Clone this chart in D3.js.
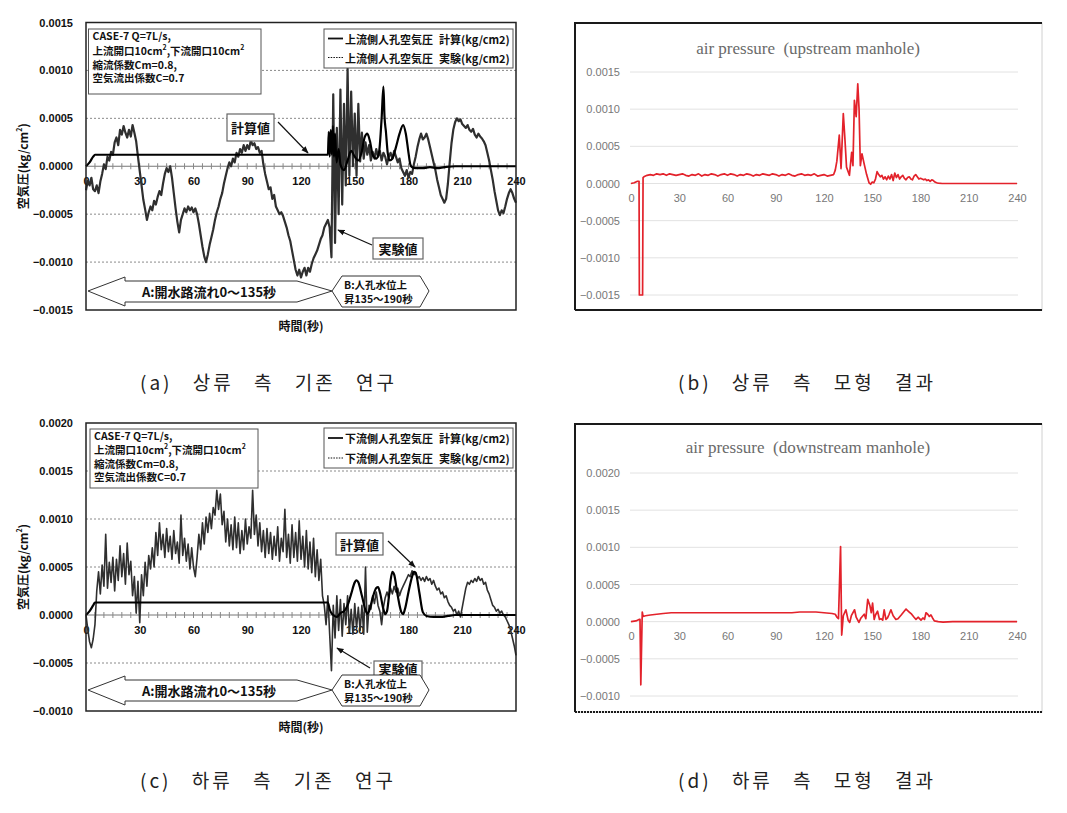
<!DOCTYPE html>
<html><head><meta charset="utf-8">
<script src="https://cdn.jsdelivr.net/npm/d3@7"></script>
<style>body{margin:0;background:#fff;}svg{display:block;}</style>
</head><body>
<svg id="c" width="1067" height="813"></svg>
<script>
// ---------------- DATA ----------------
const xTicks = [0, 30, 60, 90, 120, 150, 180, 210, 240];
const yTicksA = [0.0015, 0.0010, 0.0005, 0.0000, -0.0005, -0.0010, -0.0015];
const yTicksC = [0.0020, 0.0015, 0.0010, 0.0005, 0.0000, -0.0005, -0.0010];
const UNIT = 1e-4; // series below are in units of 1e-4 kg/cm2

// (a) upstream, experiment, one value per second t=0..240
const expUpA = [
 -2.5,-1.5,-2.0,-1.2,-2.4,-2.6,-2.0,-2.8,-1.6,-0.8,
 0.2,-0.3,1.0,0.6,1.5,1.2,2.5,3.0,2.2,3.8,
 3.3,4.2,3.5,3.0,3.8,3.1,4.3,3.5,2.6,1.0,
 -0.5,-2.0,-3.5,-4.5,-5.6,-4.8,-4.2,-4.6,-3.6,-4.0,
 -3.2,-2.6,-3.0,-1.8,-0.8,-0.2,-0.6,0.0,-1.2,-2.8,
 -4.4,-5.8,-6.9,-5.6,-5.0,-4.4,-4.8,-4.2,-4.6,-4.3,
 -4.8,-4.4,-5.0,-6.0,-7.2,-8.4,-9.4,-10.0,-9.2,-8.2,
 -7.4,-6.6,-5.6,-4.8,-4.2,-3.4,-2.8,-1.8,-1.0,-0.2,
 0.4,0.0,0.8,0.4,1.4,1.0,1.8,1.4,2.2,1.6,
 2.2,1.8,2.7,2.2,2.4,1.8,2.0,1.4,1.6,0.2,
 -0.8,-1.6,-2.4,-2.2,-3.4,-3.0,-4.2,-4.6,-5.0,-4.8,
 -5.2,-5.8,-6.4,-7.2,-7.8,-8.8,-9.8,-10.8,-11.4,-10.8,
 -11.6,-11.0,-10.6,-11.4,-10.6,-11.0,-10.2,-9.6,-9.2,-8.8,
 -8.2,-7.6,-7.2,-6.4,-6.0,-5.6,-6.4,-9.5,7.5,-8.0,
 4.0,-5.0,8.0,-4.0,6.5,-2.0,10.2,-1.0,7.8,0.0,
 5.5,-1.0,6.5,0.5,3.5,0.8,2.5,1.2,2.2,0.6,
 1.5,0.8,1.8,1.0,1.6,0.6,1.4,1.0,0.2,1.0,
 1.4,0.8,1.6,1.0,0.4,0.8,-0.2,-0.6,-1.0,-0.4,
 -1.2,-0.6,-0.8,0.2,1.0,2.0,2.8,3.4,2.8,3.0,
 3.4,2.8,2.0,1.2,0.4,-0.4,-1.4,-2.2,-3.0,-3.4,
 -3.8,-3.4,-1.8,0.4,2.4,3.8,4.6,5.0,4.7,4.9,
 4.4,4.2,4.0,4.3,3.8,3.6,3.9,3.3,3.0,3.4,
 3.1,2.9,2.6,2.2,1.4,0.6,-0.4,-1.4,-2.6,-3.6,
 -4.6,-5.1,-4.6,-4.9,-4.2,-3.4,-2.8,-2.4,-2.8,-3.4,
 -3.8
];
// (a) upstream, calculation
const calcUpT = [0,2,4,5,135,135.5,136,136.6,137.2,137.8,138.4,139,139.8,141,142,144,146,148,150,152,154,155.5,157,158.5,160,162,163.5,165,166,166.6,167.4,168.4,169.5,171,173,175,177,178.5,180,181,182,184,188,192,196,200,206,240];
const calcUpV = [0,0.4,1.0,1.2,1.2,3.6,1.0,3.8,1.2,4.2,1.0,3.4,0.4,1.8,0.2,-0.4,0.6,1.6,1.0,0.6,1.6,3.0,3.4,2.6,1.2,0.8,1.4,5.0,8.3,5.2,3.6,1.4,0.6,0.8,2.0,3.4,4.3,3.4,1.4,0.2,-0.1,-0.2,-0.2,-0.1,-0.2,-0.1,0,0];

// (c) downstream, experiment, one value per second t=0..240
const expDownC = [
 0,-1.5,-2.8,-3.4,-2.5,-1.0,2.5,4.5,2.2,5.2,
 3.0,8.4,2.8,5.5,3.4,6.0,2.5,5.8,3.6,7.2,
 4.0,6.4,3.2,7.5,4.2,5.6,2.0,4.0,0.2,3.5,
 -0.8,4.2,2.0,5.5,3.0,6.2,4.8,7.0,5.0,8.6,
 6.2,9.6,6.8,8.4,6.0,9.0,6.6,8.2,5.8,8.8,
 6.4,7.6,5.4,10.4,6.2,8.0,5.6,7.4,4.8,7.0,
 5.0,4.0,6.0,8.4,6.8,9.6,7.4,10.2,8.6,10.6,
 9.0,11.2,10.4,13.0,11.0,12.6,9.4,10.8,7.6,10.0,
 7.2,9.4,6.8,10.2,7.0,9.6,6.4,8.8,6.8,10.0,
 7.4,9.2,8.0,13.0,8.4,10.4,7.2,9.6,6.6,8.8,
 6.0,9.0,6.4,8.6,5.8,8.2,6.2,9.2,5.6,8.0,
 6.6,11.0,6.0,8.4,5.4,9.4,6.0,8.6,5.6,9.8,
 5.8,8.2,5.0,8.8,4.8,7.6,4.4,8.0,4.0,6.8,
 3.6,5.8,2.0,1.0,-1.0,2.0,-2.0,-5.8,1.0,-2.4,
 2.0,-1.6,1.6,-2.2,1.2,-1.0,2.0,-1.8,0.6,-2.0,
 1.2,-1.4,0.8,-1.6,1.0,-2.0,5.0,-1.8,1.0,0.6,
 2.0,1.2,2.4,1.0,0.4,-1.0,0.8,1.8,2.4,1.8,
 2.8,2.2,3.0,2.4,2.8,2.0,2.6,3.0,3.4,3.8,
 4.2,4.0,4.6,4.2,4.4,3.8,4.0,3.6,3.9,3.5,
 4.0,3.6,3.8,3.2,3.6,3.0,2.6,2.8,2.2,2.4,
 1.8,2.0,1.4,1.0,0.8,0.4,0.6,0.0,0.4,-0.2,
 0.8,1.8,2.8,3.4,3.2,3.6,3.4,3.8,3.5,4.0,
 3.6,3.8,3.2,3.4,2.6,2.2,1.6,1.0,0.8,0.4,
 0.6,0.2,0.4,0.0,-0.2,-0.6,-1.0,-1.6,-2.4,-3.2,
 -4.2
];
// (c) downstream, calculation
const calcDownT = [0,2,4,5,135,136,137,138,140,142,144,146,148,150,151,152,154,156,157,158,160,162,163,164,166,167,168,169,170,171,172,174,176,177,178,180,182,183,184,186,188,190,194,198,202,206,240];
const calcDownV = [0,0.4,1.0,1.3,1.3,0.6,0.2,0.0,-0.2,0.2,0.4,1.0,2.2,3.4,3.6,3.4,2.0,0.5,0.1,0.4,1.8,2.8,2.9,2.4,0.6,0.1,0.4,1.8,3.6,4.5,4.2,2.0,0.3,0.1,0.6,2.4,4.0,4.5,4.4,2.4,0.3,-0.1,-0.2,-0.2,-0.1,0,0];

// (b) model, upstream manhole
const modelUpT = [0,2,4,5,5.2,7.2,7.5,8,9,10,12,14,16,18,20,22,24,26,28,30,32,34,36,38,40,42,44,46,48,50,52,54,56,58,60,62,64,66,68,70,72,74,76,78,80,82,84,86,88,90,92,94,96,98,100,102,104,106,108,110,112,114,116,118,120,122,124,126,127,128,129.5,130.6,132,133,134,135.8,137.2,138,138.9,140,141,141.8,142.6,143.6,145,146.5,148,149,150,151,152,153,154,155,156,157,158,159,160,161,162,163,164,165,166,167,168,169,170,171,172,173,174,175,176,177,178,179,180,181,182,183,184,185,186,187,188,189,190,191,193.5,240];
const modelUpV = [0,0.1,0.3,0.3,-15,-15,0.8,0.9,1.0,1.1,1.2,1.1,1.3,1.2,1.3,1.1,1.3,1.2,1.1,1.2,1.3,1.1,1.0,1.2,1.1,1.3,1.0,1.2,1.1,1.3,1.2,1.0,1.2,1.3,1.1,1.3,1.2,1.0,1.2,1.1,1.3,1.2,1.0,1.2,1.1,1.3,1.2,1.1,1.3,1.2,1.0,1.2,1.1,1.3,1.1,1.0,1.2,1.3,1.1,1.2,1.1,1.3,1.0,1.1,1.2,1.0,1.1,1.2,1.8,3.0,6.5,2.0,9.4,6.0,2.2,1.1,4.2,2.4,11.2,9.0,13.4,10.0,2.4,4.0,2.6,1.2,0.1,-0.1,0.2,0.1,0.6,1.6,1.2,0.9,1.1,0.6,0.9,0.5,1.0,0.6,1.2,0.4,1.4,0.8,1.2,0.6,0.9,1.1,0.7,0.5,0.8,0.9,0.6,0.5,1.0,1.2,0.9,0.6,0.7,0.6,0.5,0.6,0.4,0.5,0.3,0.5,0.4,0.2,0.1,0.05,0,0];

// (d) model, downstream manhole
const modelDownT = [0,3,5,5.6,6.1,7.0,7.5,9,12,16,20,25,40,60,80,100,105,108,115,120,125,127,128,129,130.3,131,132,133.6,135,136,137,139,140,141.7,143,145,146,147.2,148.6,149.4,150.2,151.2,152,153.3,154.5,155.4,156.5,157.4,158.5,159.5,160.5,161.6,163,164.7,166,168,171,173,174.5,176,177.2,178.5,180.3,181.5,182.5,183.4,184.5,185.5,186.5,187.5,188.6,191,194,200,240];
const modelDownV = [0,0.1,0.3,0.3,-8.5,1.3,0.7,0.8,0.9,1.0,1.1,1.2,1.2,1.2,1.2,1.2,1.3,1.3,1.3,1.2,1.1,1.0,0.6,0.4,10.1,-1.8,0.8,1.6,0.2,-0.1,0.8,1.6,0.6,-0.1,0.5,1.0,0.4,3.0,2.1,1.2,2.5,0.3,0.9,1.4,0.3,0.4,0.2,1.6,0.3,0.5,1.0,1.6,0.8,0.3,0.4,0.9,1.7,1.3,1.0,0.6,0.3,0.6,0.2,0.5,0.3,1.2,1.0,0.7,0.9,0.5,0.1,0.0,-0.05,0,0];

const captions = ["(a) 상류 측 기존 연구", "(b) 상류 측 모형 결과", "(c) 하류 측 기존 연구", "(d) 하류 측 모형 결과"];

// ---------------- DRAWING ----------------
const svg = d3.select('#c');
const JP = "'Noto Sans CJK JP', 'Noto Sans CJK SC', sans-serif";
const KR = "'Noto Sans CJK KR', sans-serif";
const SANS = "'Liberation Sans', Arial, sans-serif";
const SERIF = "'Liberation Serif', 'Times New Roman', serif";

const defs = svg.append('defs');
defs.append('marker').attr('id', 'ah').attr('viewBox', '0 0 10 10')
  .attr('refX', 9).attr('refY', 5).attr('markerWidth', 6).attr('markerHeight', 6)
  .attr('orient', 'auto').append('path').attr('d', 'M0,1 L10,5 L0,9 z').attr('fill', '#111');

function supText(sel, parts) {
  parts.forEach(([t, sup]) => {
    sel.append('tspan').text(t)
      .attr('font-size', sup ? 7 : null)
      .attr('baseline-shift', sup ? '40%' : null);
  });
}

function leftPanel(o) {
  const g = svg.append('g');
  const x = d3.scaleLinear().domain([0, 240]).range([86, 516]);
  const y = d3.scaleLinear().domain(o.yDomain).range([o.bottom, o.top]);
  const y0 = y(0);

  g.selectAll('line.grid').data(o.yTicks.filter(v => v !== 0 && v > o.yDomain[0] && v < o.yDomain[1]))
    .join('line').attr('class', 'grid')
    .attr('x1', 86).attr('x2', 516).attr('y1', d => y(d)).attr('y2', d => y(d))
    .attr('stroke', '#8a8a8a').attr('stroke-width', 1).attr('stroke-dasharray', '2,2');

  g.append('line').attr('x1', 86).attr('x2', 516).attr('y1', y0).attr('y2', y0)
    .attr('stroke', '#777').attr('stroke-width', 1);
  const minor = d3.range(5, 240, 5);
  g.selectAll('line.mt').data(minor).join('line').attr('class', 'mt')
    .attr('x1', d => x(d)).attr('x2', d => x(d)).attr('y1', y0 - 3).attr('y2', y0 + 3)
    .attr('stroke', '#888').attr('stroke-width', 1);

  const ya = g.append('g').attr('transform', 'translate(86,0)')
    .call(d3.axisLeft(y).tickValues(o.yTicks).tickSize(0).tickPadding(13).tickFormat(d3.format('.4f')));
  ya.select('.domain').remove();
  ya.selectAll('text').attr('font-family', SANS).attr('font-size', 11).attr('font-weight', 'bold').attr('fill', '#111');

  const xa = g.append('g').attr('transform', `translate(0,${y0})`)
    .call(d3.axisBottom(x).tickValues(xTicks).tickSize(0).tickPadding(11).tickFormat(d3.format('d')));
  xa.select('.domain').remove();
  xa.selectAll('text').attr('font-family', SANS).attr('font-size', 11).attr('font-weight', 'bold').attr('fill', '#111');

  const expLine = d3.line().x((d, i) => x(i)).y(d => y(d * UNIT));
  g.append('path').attr('d', expLine(o.exp)).attr('fill', 'none')
    .attr('stroke', '#2f2f2f').attr('stroke-width', o.expWidth).attr('stroke-linejoin', 'round');

  const calcData = o.calcT.map((t, i) => [t, o.calcV[i]]);
  const calcLine = d3.line().x(d => x(d[0])).y(d => y(d[1] * UNIT)).curve(d3.curveMonotoneX);
  g.append('path').attr('d', calcLine(calcData)).attr('fill', 'none')
    .attr('stroke', '#000').attr('stroke-width', 2.2);

  g.append('rect').attr('x', 86).attr('y', o.top).attr('width', 430).attr('height', o.bottom - o.top)
    .attr('fill', 'none').attr('stroke', '#222').attr('stroke-width', 1.5);

  const ib = o.info;
  g.append('rect').attr('x', ib.x).attr('y', ib.y).attr('width', ib.w).attr('height', ib.h)
    .attr('fill', '#fff').attr('stroke', '#555').attr('stroke-width', 1);
  const infoLines = [
    [["CASE-7 Q=7L/s,", false]],
    [["上流開口10cm", false], ["2", true], [",下流開口10cm", false], ["2", true]],
    [["縮流係数Cm=0.8,", false]],
    [["空気流出係数C=0.7", false]]
  ];
  infoLines.forEach((parts, i) => {
    const t = g.append('text').attr('x', ib.x + 4).attr('y', ib.lines[i])
      .attr('dominant-baseline', 'central').attr('font-family', JP).attr('font-size', 10.5)
      .attr('font-weight', 'bold').attr('fill', '#111');
    supText(t, parts);
  });

  const lg = o.legend;
  g.append('rect').attr('x', lg.x).attr('y', lg.y).attr('width', lg.w).attr('height', lg.h)
    .attr('fill', '#fff').attr('stroke', '#555').attr('stroke-width', 1);
  lg.items.forEach((it, i) => {
    const cy = lg.lines[i];
    g.append('line').attr('x1', lg.x + 4).attr('x2', lg.x + 19).attr('y1', cy).attr('y2', cy)
      .attr('stroke', '#111').attr('stroke-width', i === 0 ? 1.8 : 1.2)
      .attr('stroke-dasharray', i === 0 ? null : '1.5,1.2');
    const t = g.append('text').attr('x', lg.x + 21).attr('y', cy).attr('dominant-baseline', 'central')
      .attr('font-family', JP).attr('font-size', 11).attr('font-weight', 'bold').attr('fill', '#111');
    t.append('tspan').text(it[0]);
    t.append('tspan').attr('dx', 6).text(it[1]);
  });

  const yt = g.append('text').attr('transform', `translate(22,${(o.top + o.bottom) / 2}) rotate(-90)`)
    .attr('text-anchor', 'middle').attr('dominant-baseline', 'central')
    .attr('font-family', JP).attr('font-size', 12).attr('font-weight', 'bold').attr('fill', '#111');
  supText(yt, [["空気圧(kg/cm", false], ["2", true], [")", false]]);
  g.append('text').attr('x', 301).attr('y', o.bottom + 15).attr('text-anchor', 'middle')
    .attr('dominant-baseline', 'central').attr('font-family', JP).attr('font-size', 12)
    .attr('font-weight', 'bold').attr('fill', '#111').text('時間(秒)');

  o.notes.forEach(n => {
    g.append('line').attr('x1', n.from[0]).attr('y1', n.from[1]).attr('x2', n.to[0]).attr('y2', n.to[1])
      .attr('stroke', '#111').attr('stroke-width', 1.2).attr('marker-end', 'url(#ah)');
    g.append('rect').attr('x', n.box[0]).attr('y', n.box[1]).attr('width', n.box[2]).attr('height', n.box[3])
      .attr('fill', '#fff').attr('stroke', '#666').attr('stroke-width', 1.2);
    g.append('text').attr('x', n.box[0] + n.box[2] / 2).attr('y', n.box[1] + n.textDy)
      .attr('text-anchor', 'middle').attr('dominant-baseline', 'central')
      .attr('font-family', JP).attr('font-size', 13).attr('font-weight', 'bold').attr('fill', '#111')
      .text(n.text);
  });

  const a = o.arrowY; // [top, shaftTop, mid, shaftBot, bottom]
  const aPts = [[88, a[2]], [125, a[0]], [125, a[1]], [297, a[1]], [332, a[2]], [297, a[3]], [125, a[3]], [125, a[4]]];
  g.append('polygon').attr('points', aPts.map(p => p.join(',')).join(' '))
    .attr('fill', '#fff').attr('stroke', '#333').attr('stroke-width', 1);
  g.append('text').attr('x', 209).attr('y', a[2]).attr('text-anchor', 'middle').attr('dominant-baseline', 'central')
    .attr('font-family', JP).attr('font-size', 13).attr('font-weight', 'bold').attr('fill', '#111')
    .text('A:開水路流れ0～135秒');
  const bPts = [[332, a[2]], [342, a[0] - 1], [420, a[0] - 1], [429, a[2]], [420, a[4] + 1], [342, a[4] + 1]];
  g.append('polygon').attr('points', bPts.map(p => p.join(',')).join(' '))
    .attr('fill', '#fff').attr('stroke', '#333').attr('stroke-width', 1);
  ['B:人孔水位上', '昇135～190秒'].forEach((t, i) => {
    g.append('text').attr('x', 344).attr('y', a[2] - 7 + i * 14).attr('dominant-baseline', 'central')
      .attr('font-family', JP).attr('font-size', 10.5).attr('font-weight', 'bold').attr('fill', '#111').text(t);
  });
}

function rightPanel(o) {
  const g = svg.append('g');
  const x = d3.scaleLinear().domain([0, 240]).range([631, 1017]);
  const y = d3.scaleLinear().domain(o.yDomain).range([o.yBottom, o.yTop]);

  g.append('rect').attr('x', 575).attr('y', o.top).attr('width', 1042 - 575).attr('height', o.bottom - o.top)
    .attr('fill', '#fff').attr('stroke', '#d0d0d0').attr('stroke-width', 1);
  g.append('path').attr('d', `M1042,${o.top} L575,${o.top} L575,${o.bottom}`)
    .attr('fill', 'none').attr('stroke', '#1a1a1a').attr('stroke-width', 2);
  g.append('line').attr('x1', 575).attr('x2', 1042).attr('y1', o.bottom).attr('y2', o.bottom)
    .attr('stroke', '#1a1a1a').attr('stroke-width', 2).attr('stroke-dasharray', o.dottedBottom ? '2,1' : null);

  g.append('text').attr('x', 808).attr('y', o.titleY).attr('text-anchor', 'middle').attr('dominant-baseline', 'central')
    .attr('font-family', SERIF).attr('font-size', 17).attr('fill', '#6a6a6a').attr('xml:space', 'preserve')
    .text(o.title);

  g.selectAll('line.grid').data(o.yTicks).join('line').attr('class', 'grid')
    .attr('x1', 630).attr('x2', 1018).attr('y1', d => y(d)).attr('y2', d => y(d))
    .attr('stroke', '#e2e2e2').attr('stroke-width', 1);

  const ya = g.append('g').attr('transform', 'translate(631,0)')
    .call(d3.axisLeft(y).tickValues(o.yTicks).tickSize(0).tickPadding(11).tickFormat(d3.format('.4f')));
  ya.select('.domain').remove();
  ya.selectAll('text').attr('font-family', SANS).attr('font-size', 11).attr('fill', '#777');

  const xa = g.append('g').attr('transform', `translate(0,${y(0)})`)
    .call(d3.axisBottom(x).tickValues(xTicks).tickSize(0).tickPadding(11).tickFormat(d3.format('d')));
  xa.select('.domain').remove();
  xa.selectAll('text').attr('font-family', SANS).attr('font-size', 11).attr('fill', '#777');

  const data = o.t.map((t, i) => [t, o.v[i]]);
  const line = d3.line().x(d => x(d[0])).y(d => y(d[1] * UNIT));
  g.append('path').attr('d', line(data)).attr('fill', 'none')
    .attr('stroke', '#e3222b').attr('stroke-width', 1.7).attr('stroke-linejoin', 'round');
}

leftPanel({
  top: 22.5, bottom: 310, yDomain: [-0.0015, 0.0015], yTicks: yTicksA,
  exp: expUpA, expWidth: 2.2, calcT: calcUpT, calcV: calcUpV,
  info: { x: 88.5, y: 29, w: 172.5, h: 65, lines: [35, 50, 63.5, 77] },
  legend: { x: 324, y: 29, w: 189, h: 39, lines: [38.5, 57.5],
    items: [['上流側人孔空気圧', '計算(kg/cm2)'], ['上流側人孔空気圧', '実験(kg/cm2)']] },
  notes: [
    { text: '計算値', box: [227, 114, 47, 27], textDy: 13.5, from: [278, 122], to: [308, 153] },
    { text: '実験値', box: [373, 238, 50, 21], textDy: 10.5, from: [372, 245], to: [338, 230] }
  ],
  arrowY: [277, 281, 291, 302, 306]
});

leftPanel({
  top: 423, bottom: 711, yDomain: [-0.0010, 0.0020], yTicks: yTicksC,
  exp: expDownC, expWidth: 1.6, calcT: calcDownT, calcV: calcDownV,
  info: { x: 90, y: 429, w: 168, h: 59, lines: [434.5, 449, 462.5, 476] },
  legend: { x: 324, y: 428, w: 189, h: 40, lines: [438, 458],
    items: [['下流側人孔空気圧', '計算(kg/cm2)'], ['下流側人孔空気圧', '実験(kg/cm2)']] },
  notes: [
    { text: '計算値', box: [336, 533, 47, 22], textDy: 11, from: [388, 541], to: [415, 567] },
    { text: '実験値', box: [374, 661, 48, 22], textDy: 7, from: [370, 668], to: [337, 648] }
  ],
  arrowY: [676, 680, 690, 701, 705]
});

rightPanel({
  top: 23, bottom: 310, titleY: 48, title: 'air pressure  (upstream manhole)',
  yDomain: [-0.0015, 0.0015], yTop: 72, yBottom: 295, yTicks: yTicksA,
  t: modelUpT, v: modelUpV, dottedBottom: false
});
rightPanel({
  top: 424, bottom: 712, titleY: 447, title: 'air pressure  (downstream manhole)',
  yDomain: [-0.0010, 0.0020], yTop: 473, yBottom: 696, yTicks: yTicksC,
  t: modelDownT, v: modelDownV, dottedBottom: true
});

const capPos = [[140, 381], [678, 381], [140, 779], [678, 779]];
svg.selectAll('text.cap').data(captions).join('text').attr('class', 'cap')
  .attr('x', (d, i) => capPos[i][0]).attr('y', (d, i) => capPos[i][1])
  .attr('dominant-baseline', 'central').attr('font-family', KR).attr('font-size', 19)
  .attr('fill', '#222').attr('letter-spacing', 3).attr('word-spacing', 13)
  .text(d => d);
</script>
</body></html>
